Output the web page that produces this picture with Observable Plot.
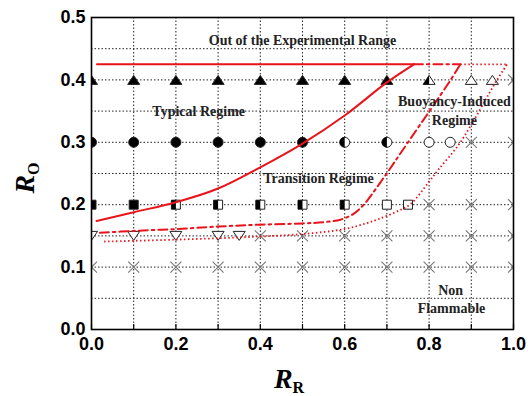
<!DOCTYPE html>
<html><head><meta charset="utf-8">
<script src="https://cdn.jsdelivr.net/npm/d3@7"></script>
<script src="https://cdn.jsdelivr.net/npm/@observablehq/plot@0.6"></script>
<style>body{margin:0;background:#fff} #chart{width:528px;height:396px}</style>
</head><body><div id="chart"></div>
<script>
// ---- observations: R_R values and regime per R_O row ----
// regimes: T = typical, Tr = transition, B = buoyancy-induced, N = non flammable
const row040_RR = [0, 0.1, 0.2, 0.3, 0.4, 0.5, 0.6, 0.7, 0.8, 0.9, 0.95, 1.0];
const row040_reg = ["T","T","T","T","T","T","T","T","Tr","B","B","N"];
const row030_RR = [0, 0.1, 0.2, 0.3, 0.4, 0.5, 0.6, 0.7, 0.8, 0.85, 0.9, 1.0];
const row030_reg = ["T","T","T","T","T","T","Tr","Tr","B","B","N","N"];
const row020_RR = [0, 0.1, 0.2, 0.3, 0.4, 0.5, 0.6, 0.7, 0.75, 0.8, 0.9, 1.0];
const row020_reg = ["T","T","Tr","Tr","Tr","Tr","Tr","B","B","N","N","N"];
const row015_RR = [0, 0.1, 0.2, 0.3, 0.35, 0.4, 0.5, 0.6, 0.7, 0.8, 0.9, 1.0];
const row015_reg = ["B","B","B","B","B","N","N","N","N","N","N","N"];
const row010_RR = [0, 0.1, 0.2, 0.3, 0.4, 0.5, 0.6, 0.7, 0.8, 0.9, 1.0];
const row010_reg = ["N","N","N","N","N","N","N","N","N","N","N"];

// ---- boundary curves ----
const topLimit = 0.425;
const solidRR = [0.012, 0.1, 0.2, 0.3, 0.4, 0.5, 0.6, 0.7, 0.764];
const solidRO = [0.174, 0.188, 0.204, 0.226, 0.26, 0.298, 0.343, 0.396, 0.425];
const solidTopRR = [0.013, 0.764];
const dashdotRR = [0.02, 0.1, 0.2, 0.3, 0.4, 0.5, 0.55, 0.59, 0.62, 0.645, 0.689, 0.748, 0.851, 0.874];
const dashdotRO = [0.155, 0.158, 0.161, 0.165, 0.168, 0.17, 0.172, 0.176, 0.185, 0.2, 0.24, 0.298, 0.4, 0.425];
const dashdotTopRR = [0.764, 0.874];
const dottedRR = [0.03, 0.2, 0.4, 0.5, 0.6, 0.65, 0.68, 0.72, 0.756, 0.8, 0.823, 0.874, 0.961, 0.985];
const dottedRO = [0.141, 0.144, 0.149, 0.153, 0.161, 0.17, 0.177, 0.188, 0.201, 0.237, 0.257, 0.3, 0.4, 0.425];
const dottedTopRR = [0.874, 0.985];

// ---- labels ----
const regionText = ["Out of the Experimental Range", "Typical Regime", "Buoyancy-Induced", "Regime", "Transition Regime", "Non", "Flammable"];
const regionRR = [0.5, 0.254, 0.86, 0.86, 0.538, 0.851, 0.853];
const regionRO = [0.463, 0.349, 0.365, 0.335, 0.242, 0.0625, 0.034];

const xTicks = [0, 0.2, 0.4, 0.6, 0.8, 1.0];
const yTicks = [0, 0.1, 0.2, 0.3, 0.4, 0.5];
const xMinor = [0, 0.1, 0.2, 0.3, 0.4, 0.5, 0.6, 0.7, 0.8, 0.9, 1.0];
const xGrid = [0.1, 0.2, 0.3, 0.4, 0.5, 0.6, 0.7, 0.8, 0.9];
const yGrid = [0.05, 0.1, 0.15, 0.2, 0.25, 0.3, 0.35, 0.4, 0.45];

// ---- build tables ----
const rows = [[0.4,row040_RR,row040_reg,"triUp"],[0.3,row030_RR,row030_reg,"circle"],[0.2,row020_RR,row020_reg,"square"],[0.15,row015_RR,row015_reg,"triDown"],[0.1,row010_RR,row010_reg,"triDown"]];
const obs = rows.flatMap(([ro, rr, reg, shape]) => rr.map((x, i) => ({RR: x, RO: ro, regime: reg[i], shape})));
const curve = (xs, ys) => xs.map((x, i) => ({RR: x, RO: ys[i]}));
const solid = curve(solidRR, solidRO);
const dashdot = curve(dashdotRR, dashdotRO);
const dotted = curve(dottedRR, dottedRO);
const labels = regionText.map((t, i) => ({t, RR: regionRR[i], RO: regionRO[i]}));

// ---- custom symbols ----
function shapeSymbol(shape, half) {
  return {draw(ctx, size) {
    const r = Math.sqrt(size / Math.PI);
    if (shape === "circle") {
      if (half) { ctx.moveTo(0, r); ctx.arc(0, 0, r, Math.PI / 2, 3 * Math.PI / 2); ctx.closePath(); }
      else { ctx.moveTo(r, 0); ctx.arc(0, 0, r, 0, 2 * Math.PI); ctx.closePath(); }
    } else if (shape === "square") {
      if (half) ctx.rect(-r, -r, r, 2 * r); else ctx.rect(-r, -r, 2 * r, 2 * r);
    } else {
      const s = shape === "triUp" ? 1 : -1, h = 0.75 * r;
      ctx.moveTo(0, -s * h);
      ctx.lineTo(-r, s * h);
      ctx.lineTo(half ? 0 : r, s * h);
      ctx.closePath();
    }
  }};
}
const timesSymbol = {draw(ctx, size) { const r = Math.sqrt(size / Math.PI); ctx.moveTo(-r, -r); ctx.lineTo(r, r); ctx.moveTo(r, -r); ctx.lineTo(-r, r); }};
const rOf = {triUp: 6, triDown: 6, circle: 5, square: 4.5};

const red = "#e8141c";
const markerMarks = ["triUp", "circle", "square", "triDown"].flatMap(shape => [
  Plot.dot(obs.filter(d => d.shape === shape && d.regime !== "N"), {x: "RR", y: "RO", symbol: shapeSymbol(shape, false), r: rOf[shape],
    fill: d => d.regime === "T" ? "black" : "white", stroke: "#222", strokeWidth: 1, clip: "frame"}),
  Plot.dot(obs.filter(d => d.shape === shape && d.regime === "Tr"), {x: "RR", y: "RO", symbol: shapeSymbol(shape, true), r: rOf[shape],
    fill: "black", stroke: "none", clip: "frame"})
]);

const serif = "Liberation Serif, Times New Roman, serif";
const dotDash = "1.5,2.5";
const plot = Plot.plot({
  width: 528, height: 396,
  marginLeft: 91, marginRight: 15, marginTop: 17, marginBottom: 67,
  x: {domain: [0, 1], label: null},
  y: {domain: [0, 0.5], label: null},
  color: {type: "identity"},
  style: {fontFamily: "Liberation Sans, Arial, sans-serif", fontSize: "18px", fontWeight: "bold", background: "white", color: "black"},
  marks: [
    Plot.gridX(xGrid, {stroke: "#222", strokeOpacity: 1, strokeWidth: 1, strokeDasharray: "1.5,2"}),
    Plot.gridY(yGrid, {stroke: "#222", strokeOpacity: 1, strokeWidth: 1, strokeDasharray: "1.5,2"}),
    Plot.dot(obs.filter(d => d.regime === "N"), {x: "RR", y: "RO", symbol: timesSymbol, r: 5.5, stroke: "#777", strokeWidth: 1.1, clip: "frame"}),
    ...markerMarks,
    Plot.line(solid, {x: "RR", y: "RO", stroke: red, strokeWidth: 2, curve: "catmull-rom"}),
    Plot.line(solidTopRR, {x: d => d, y: () => topLimit, stroke: red, strokeWidth: 2}),
    Plot.line(dashdot, {x: "RR", y: "RO", stroke: red, strokeWidth: 2, strokeDasharray: "9,4,2.5,4", curve: "catmull-rom"}),
    Plot.line(dashdotTopRR, {x: d => d, y: () => topLimit, stroke: red, strokeWidth: 2, strokeDasharray: "9,4,2.5,4"}),
    Plot.line(dotted, {x: "RR", y: "RO", stroke: red, strokeWidth: 1.8, strokeDasharray: dotDash, strokeLinecap: "butt", curve: "catmull-rom"}),
    Plot.line(dottedTopRR, {x: d => d, y: () => topLimit, stroke: red, strokeWidth: 1.8, strokeDasharray: dotDash, strokeLinecap: "butt"}),
    Plot.text(labels, {x: "RR", y: "RO", text: "t", fontFamily: serif, fontSize: 14, fontWeight: "bold", fill: "#222"}),
    Plot.axisX(xMinor, {tickSize: -5, tickFormat: () => "", label: null, strokeWidth: 1.2}),
    Plot.axisX(xTicks, {tickSize: 0, tickPadding: 8, tickFormat: d3.format(".1f"), label: null}),
    Plot.axisY(yTicks, {tickSize: 0, tickPadding: 6, tickFormat: d3.format(".1f"), label: null}),
    Plot.frame({stroke: "black", strokeWidth: 1.6})
  ]
});
document.getElementById("chart").appendChild(plot);

// axis titles with subscripts
const svg = d3.select(plot);
const tx = svg.append("text").attr("x", 289).attr("y", 388).attr("font-family", serif).attr("font-weight", "bold").attr("fill", "black");
tx.append("tspan").attr("font-style", "italic").attr("font-size", 28).text("R");
tx.append("tspan").attr("font-size", 16).attr("dy", 5).text("R");
const ty = svg.append("text").attr("transform", "translate(34,178) rotate(-90)").attr("font-family", serif).attr("font-weight", "bold").attr("fill", "black");
ty.append("tspan").attr("font-style", "italic").attr("font-size", 28).text("R");
ty.append("tspan").attr("font-size", 16).attr("dy", 5).text("O");
</script>
</body></html>
